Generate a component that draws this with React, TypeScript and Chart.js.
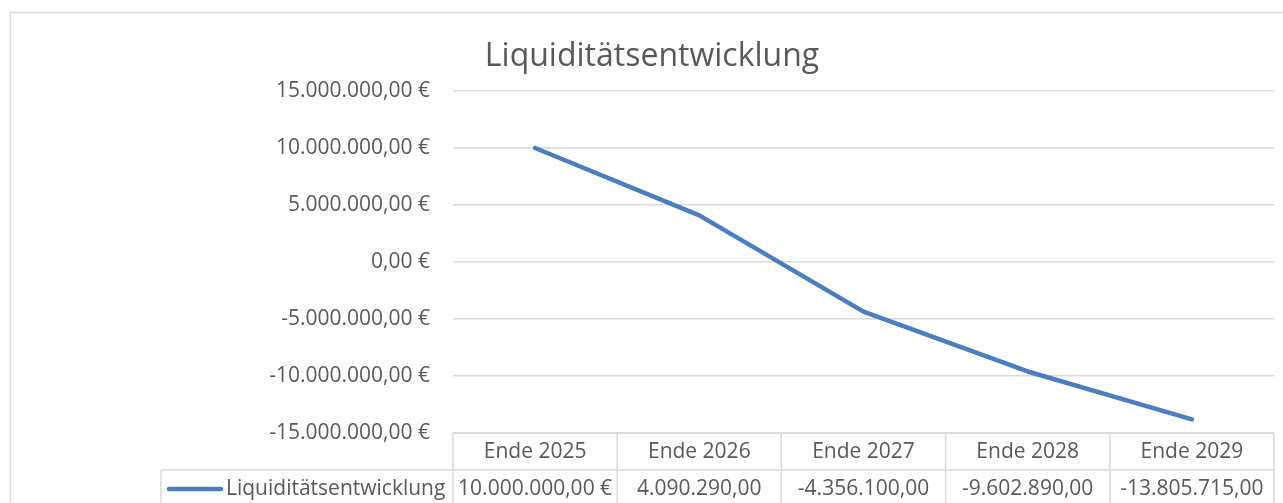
import React, { useEffect, useRef } from "react";
import { Chart, registerables } from "chart.js";

Chart.register(...registerables);

const chartTitle = "Liquiditätsentwicklung";
const seriesName = "Liquiditätsentwicklung";
const categories = ["Ende 2025", "Ende 2026", "Ende 2027", "Ende 2028", "Ende 2029"];
const values = [10000000, 4090290, -4356100, -9602890, -13805715];
const tableLabels = ["10.000.000,00 €", "4.090.290,00", "-4.356.100,00", "-9.602.890,00", "-13.805.715,00"];
const yMin = -15000000;
const yMax = 15000000;
const yStep = 5000000;

const FONT = "'Open Sans', 'Noto Sans', sans-serif";
const TEXT = "#595959";
const GRID = "#D9D9D9";
const LINE = "#4A7EBF";

function formatEuro(v: number): string {
  const neg = v < 0;
  const abs = Math.abs(Math.round(v * 100));
  const intPart = Math.floor(abs / 100).toString();
  const frac = (abs % 100).toString().padStart(2, "0");
  const grouped = intPart.replace(/\B(?=(\d{3})+(?!\d))/g, ".");
  return (neg ? "-" : "") + grouped + "," + frac + " €";
}

const decorPlugin = {
  id: "excelDecor",
  beforeDraw(chart: any) {
    const ctx = chart.ctx;
    ctx.save();
    ctx.fillStyle = "#ffffff";
    ctx.fillRect(0, 0, chart.width, chart.height);
    ctx.strokeStyle = GRID;
    ctx.lineWidth = 1.5;
    ctx.strokeRect(10.5, 12.5, chart.width + 20, chart.height + 20);
    ctx.fillStyle = TEXT;
    ctx.font = `32px ${FONT}`;
    ctx.textAlign = "center";
    ctx.textBaseline = "alphabetic";
    ctx.fillText(chartTitle, 652, 66);
    ctx.restore();
  },
  afterDraw(chart: any) {
    const ctx = chart.ctx;
    const xs = chart.scales.x;
    const area = chart.chartArea;
    const n = categories.length;
    const cw = (area.right - area.left) / n;
    const top = area.bottom;
    const rowTop = 470;
    const rowBottom = 508;
    const legendLeft = 161;
    ctx.save();
    ctx.strokeStyle = GRID;
    ctx.lineWidth = 1.5;
    ctx.beginPath();
    ctx.moveTo(area.left, top);
    ctx.lineTo(area.right, top);
    ctx.moveTo(legendLeft, rowTop);
    ctx.lineTo(area.right, rowTop);
    ctx.moveTo(legendLeft, rowBottom);
    ctx.lineTo(area.right, rowBottom);
    ctx.moveTo(legendLeft, rowTop);
    ctx.lineTo(legendLeft, rowBottom);
    for (let i = 0; i <= n; i++) {
      const x = area.left + i * cw;
      ctx.moveTo(x, top);
      ctx.lineTo(x, rowBottom);
    }
    ctx.stroke();

    ctx.fillStyle = TEXT;
    ctx.font = `21px ${FONT}`;
    ctx.textAlign = "center";
    ctx.textBaseline = "alphabetic";
    for (let i = 0; i < n; i++) {
      const cx = xs.getPixelForValue(i);
      ctx.fillText(categories[i], cx, 458);
      ctx.fillText(tableLabels[i], cx, 495);
    }
    // legend key
    ctx.strokeStyle = LINE;
    ctx.lineWidth = 4.5;
    ctx.lineCap = "round";
    ctx.beginPath();
    ctx.moveTo(169, 489);
    ctx.lineTo(221, 489);
    ctx.stroke();
    ctx.textAlign = "left";
    ctx.fillText(seriesName, 226, 495);
    ctx.restore();
  },
};

export default function App() {
  const ref = useRef<HTMLCanvasElement | null>(null);
  useEffect(() => {
    document.body.style.margin = "0";
    if (!ref.current) return;
    const chart = new Chart(ref.current, {
      type: "line",
      data: {
        labels: categories,
        datasets: [
          {
            label: seriesName,
            data: values,
            borderColor: LINE,
            backgroundColor: LINE,
            borderWidth: 4.5,
            pointRadius: 0,
            borderCapStyle: "round",
            borderJoinStyle: "round",
            tension: 0,
          },
        ],
      },
      options: {
        responsive: false,
        animation: false,
        layout: { padding: { left: 0, top: 91, right: 9, bottom: 70 } },
        plugins: {
          legend: { display: false },
          title: { display: false },
          tooltip: { enabled: false },
        },
        scales: {
          x: {
            type: "category",
            offset: true,
            display: false,
          },
          y: {
            min: yMin,
            max: yMax,
            border: { display: false },
            grid: { color: GRID, lineWidth: 1.5, drawTicks: false },
            ticks: {
              stepSize: yStep,
              padding: 23,
              color: TEXT,
              font: { family: FONT, size: 21 },
              callback: (v: any) => formatEuro(Number(v)),
            },
            afterFit: (s: any) => {
              s.width = 453;
            },
          },
        },
      },
      plugins: [decorPlugin],
    });
    return () => chart.destroy();
  }, []);
  return <canvas ref={ref} width={1283} height={503} style={{ display: "block", width: 1283, height: 503 }} />;
}
